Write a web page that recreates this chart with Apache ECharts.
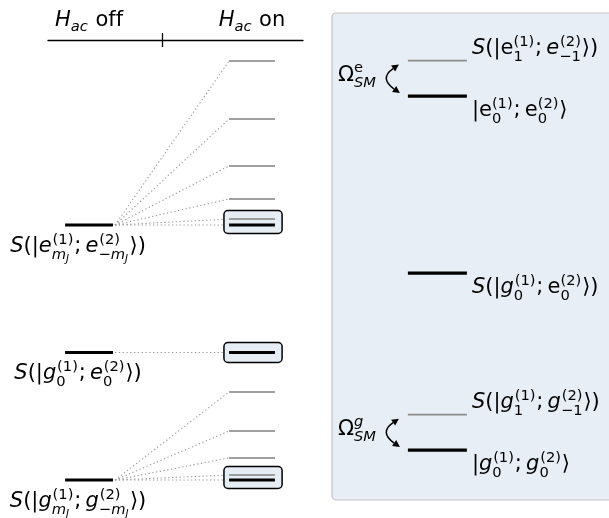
<!DOCTYPE html>
<html><head><meta charset="utf-8">
<script src="https://cdn.jsdelivr.net/npm/echarts@6/dist/echarts.min.js"></script>
<style>html,body{margin:0;padding:0;background:#fff}#c{width:609px;height:518px}</style>
</head><body><div id="c"></div>
<script>
// ---------------- data ----------------
const columnTitles = ['H_{ac}\\rm{ off}', 'H_{ac}\\rm{ on}'];
const manifoldLabels = [
  'S(|e^{(1)}_{m_J};\u2009e^{(2)}_{\u2212m_J}\u27E9)',
  'S(|g^{(1)}_0;\u2009e^{(2)}_0\u27E9)',
  'S(|g^{(1)}_{m_J};\u2009g^{(2)}_{\u2212m_J}\u27E9)'
];
const offEnergies = [2.0, 1.0, 0.0];                 // H_ac off
const eManifoldOn = [3.286, 2.831, 2.463, 2.204, 2.047, 2.0];  // H_ac on (last = m_J 0)
const g0e0On = [1.0];
const gManifoldOn = [0.690, 0.384, 0.173, 0.039, 0.0];
const boxedPairs = [[2.0, 2.047], [1.0, 1.0], [0.0, 0.039]];   // [low, high]

const zoomLabels = [
  'S(|\\rm{e}^{(1)}_1;\u2009e^{(2)}_{\u22121}\u27E9)',
  '|\\rm{e}^{(1)}_0;\u2009\\rm{e}^{(2)}_0\u27E9',
  'S(|g^{(1)}_0;\u2009\\rm{e}^{(2)}_0\u27E9)',
  'S(|g^{(1)}_1;\u2009g^{(2)}_{\u22121}\u27E9)',
  '|g^{(1)}_0;\u2009g^{(2)}_0\u27E9'
];
const zoomEnergies = [2.2, 2.0, 1.0, 0.2, 0.0];
const couplingLabels = ['\u03A9^{\\rm{e}}_{SM}', '\u03A9^g_{SM}'];
const couplingPairs = [[2.2, 2.0], [0.2, 0.0]];

// ---------------- layout / style ----------------
const LY = [-0.298, 3.451];
const RY = [-0.282, 2.469];
const OFF_X = [0.067, 0.255], ON_X = [0.71, 0.89], BOX_X = [0.69, 0.918], TICK_X = 0.447;
const Z_X = [0.274, 0.487];
const zoomGray = [true, false, false, true, false];
const FS = 21;
const FAM = '"DejaVu Sans"';
const mctx = document.createElement('canvas').getContext('2d');
function fstr(size, it) { return (it ? 'italic ' : '') + size.toFixed(2) + 'px ' + FAM; }
function meas(t, f) { mctx.font = f; return mctx.measureText(t).width; }

function parseMath(s) {
  let i = 0;
  function mark(ns) { ns.forEach(n => { n.up = true; if (n.sup) mark(n.sup); if (n.sub) mark(n.sub); }); }
  function arg() {
    if (s[i] === '{') { i++; const g = group(); i++; return g; }
    return [{ ch: s[i++] }];
  }
  function group() {
    const out = [];
    while (i < s.length && s[i] !== '}') {
      const c = s[i];
      if (c === '^' || c === '_') {
        i++; const a = arg(); const last = out[out.length - 1];
        if (c === '^') last.sup = a; else last.sub = a;
      } else if (c === '\\') {
        i++; let cmd = '';
        while (i < s.length && /[a-z]/i.test(s[i])) cmd += s[i++];
        const a = arg(); if (cmd === 'rm') mark(a); out.push(...a);
      } else if (c === '{') { i++; out.push(...group()); i++; }
      else { out.push({ ch: c }); i++; }
    }
    return out;
  }
  return group();
}
function layoutMath(nodes, size, x, base, out) {
  for (const n of nodes) {
    const it = /[A-Za-z]/.test(n.ch) && !n.up;
    const f = fstr(size, it);
    const w = meas(n.ch, f);
    if (out) out.push({ type: 'text', x: x, y: base - 0.34 * size, silent: true,
      style: { text: n.ch, font: f, fill: '#000', align: 'left', verticalAlign: 'middle',
               textAlign: 'left', textVerticalAlign: 'middle' } });
    x += w;
    if (n.sup || n.sub) {
      const ss = size * 0.7, both = n.sup && n.sub;
      let x1 = x, x2 = x;
      if (n.sup) x1 = layoutMath(n.sup, ss, x + (it ? 0.04 * size : 0), base - size * (both ? 0.42 : 0.38), out);
      if (n.sub) x2 = layoutMath(n.sub, ss, x, base + size * (both ? 0.30 : 0.22), out);
      x = Math.max(x1, x2) + 0.04 * size;
    }
  }
  return x;
}
function mathText(str, x, base, align) {
  const nodes = parseMath(str);
  const w = layoutMath(nodes, FS, 0, 0, null);
  const x0 = align === 'center' ? x - w / 2 : align === 'right' ? x - w : x;
  const out = [];
  layoutMath(nodes, FS, x0, base, out);
  return out;
}

// derived series data
const onSets = [eManifoldOn, g0e0On, gManifoldOn];
const dottedData = [], onData = [];
onSets.forEach((arr, k) => arr.forEach((E, j) => {
  dottedData.push([offEnergies[k], E]);
  onData.push([E, j === arr.length - 1 ? 1 : 0]);
}));

const L = { xAxisIndex: 0, yAxisIndex: 0 };
const R = { xAxisIndex: 2, yAxisIndex: 1 };

const option = {
  animation: false,
  backgroundColor: '#fff',
  grid: [
    { left: 48, width: 255, top: 40, height: 478 },
    { left: 332, right: 0, top: 13, height: 487 }
  ],
  xAxis: [
    { gridIndex: 0, type: 'value', min: 0, max: 1, position: 'top',
      axisLine: { show: true, onZero: false, lineStyle: { color: '#000', width: 1.3 } },
      axisTick: { show: true, customValues: [TICK_X], length: 7, lineStyle: { color: '#000', width: 1.3 } },
      axisLabel: { show: false }, splitLine: { show: false } },
    { gridIndex: 0, type: 'value', min: 0, max: 1, position: 'top',
      axisLine: { show: false, onZero: false },
      axisTick: { show: true, inside: true, customValues: [TICK_X], length: 7, lineStyle: { color: '#000', width: 1.3 } },
      axisLabel: { show: false }, splitLine: { show: false } },
    { gridIndex: 1, type: 'value', min: 0, max: 1, show: false }
  ],
  yAxis: [
    { gridIndex: 0, type: 'value', min: LY[0], max: LY[1], show: false },
    { gridIndex: 1, type: 'value', min: RY[0], max: RY[1], show: false }
  ],
  series: [
    // column titles
    Object.assign({ type: 'custom', clip: false, z: 5, data: [[0.161, 0], [0.80, 1]],
      renderItem: (p, api) => {
        const c = api.coord([api.value(0), LY[1]]);
        return { type: 'group', children: mathText(columnTitles[api.value(1)], c[0], c[1] - 12, 'center') };
      } }, L),
    // dotted connectors
    Object.assign({ type: 'custom', clip: false, z: 1, data: dottedData,
      renderItem: (p, api) => {
        const a = api.coord([OFF_X[1], api.value(0)]);
        const b = api.coord([ON_X[0], api.value(1)]);
        return { type: 'line', shape: { x1: a[0] + 2, y1: a[1], x2: b[0], y2: b[1] },
          style: { stroke: '#9a9a9a', lineWidth: 1.1, lineDash: [1.3, 2.5] } };
      } }, L),
    // boxes
    Object.assign({ type: 'custom', clip: false, z: 2, data: boxedPairs,
      renderItem: (p, api) => {
        const lo = api.value(0), hi = api.value(1);
        const pad = lo === hi ? 10 : 8.5;
        const a = api.coord([BOX_X[0], hi]), b = api.coord([BOX_X[1], lo]);
        return { type: 'rect', shape: { x: a[0], y: a[1] - pad, width: b[0] - a[0], height: b[1] - a[1] + 2 * pad, r: 4 },
          style: { fill: '#e6edf5', stroke: '#000', lineWidth: 1.5 } };
      } }, L),
    // off levels + labels
    Object.assign({ type: 'custom', clip: false, z: 3, data: offEnergies.map((E, k) => [E, k]),
      renderItem: (p, api) => {
        const E = api.value(0), k = api.value(1);
        const a = api.coord([OFF_X[0], E]), b = api.coord([OFF_X[1], E]);
        const ch = [{ type: 'line', shape: { x1: a[0], y1: a[1], x2: b[0], y2: b[1] },
          style: { stroke: '#000', lineWidth: 3.2 } }];
        return { type: 'group', children: ch.concat(mathText(manifoldLabels[k], (a[0] + b[0]) / 2 - 11, a[1] + 28.5, 'center')) };
      } }, L),
    // on levels
    Object.assign({ type: 'custom', clip: false, z: 3, data: onData,
      renderItem: (p, api) => {
        const E = api.value(0), bright = api.value(1) === 1;
        const a = api.coord([ON_X[0], E]), b = api.coord([ON_X[1], E]);
        return { type: 'line', shape: { x1: a[0], y1: a[1], x2: b[0], y2: b[1] },
          style: { stroke: bright ? '#000' : '#808080', lineWidth: bright ? 3.2 : 1.6 } };
      } }, L),
    // zoom panel background (extends past the right edge of the page)
    Object.assign({ type: 'custom', clip: false, z: 0, data: [[RY[0], RY[1]]],
      renderItem: (p, api) => {
        const a = api.coord([0, api.value(1)]), b = api.coord([1, api.value(0)]);
        return { type: 'rect', shape: { x: a[0], y: a[1], width: b[0] - a[0] + 20, height: b[1] - a[1], r: 4 },
          style: { fill: '#e8eef5', stroke: '#c4c4c4', lineWidth: 1.2 } };
      } }, R),
    // zoom levels + labels
    Object.assign({ type: 'custom', clip: false, z: 3, data: zoomEnergies.map((E, k) => [E, k]),
      renderItem: (p, api) => {
        const E = api.value(0), k = api.value(1), gray = zoomGray[k];
        const a = api.coord([Z_X[0], E]), b = api.coord([Z_X[1], E]);
        const ch = [{ type: 'line', shape: { x1: a[0], y1: a[1], x2: b[0], y2: b[1] },
          style: { stroke: gray ? '#8c8c8c' : '#000', lineWidth: gray ? 1.6 : 3.2 } }];
        return { type: 'group', children: ch.concat(mathText(zoomLabels[k], b[0] + 5, gray ? a[1] - 5 : a[1] + 22, 'left')) };
      } }, R),
    // couplings
    Object.assign({ type: 'custom', clip: false, z: 4, data: couplingPairs.map((pr, k) => [pr[0], pr[1], k]),
      renderItem: (p, api) => {
        const hi = api.coord([Z_X[0], api.value(0)]), lo = api.coord([Z_X[0], api.value(1)]);
        const k = api.value(2);
        const tx = hi[0] - 9;
        const T = [tx, hi[1] + 4], B = [tx + 1, lo[1] - 3], C = [tx - 20, (hi[1] + lo[1]) / 2];
        function head(P, Cc) {
          const dx = P[0] - Cc[0], dy = P[1] - Cc[1], L0 = Math.hypot(dx, dy);
          const ux = dx / L0, uy = dy / L0, len = 7, hw = 3.6;
          const bx = P[0] - ux * len, by = P[1] - uy * len;
          return { pts: [[P[0], P[1]], [bx - uy * hw, by + ux * hw], [bx + uy * hw, by - ux * hw]], base: [bx, by] };
        }
        const h1 = head(T, C), h2 = head(B, C);
        const ch = [
          { type: 'bezierCurve', shape: { x1: h1.base[0], y1: h1.base[1], x2: h2.base[0], y2: h2.base[1], cpx1: C[0], cpy1: C[1] },
            style: { stroke: '#000', lineWidth: 1.5, fill: null } },
          { type: 'polygon', shape: { points: h1.pts }, style: { fill: '#000' } },
          { type: 'polygon', shape: { points: h2.pts }, style: { fill: '#000' } }
        ];
        const mid = (hi[1] + lo[1]) / 2;
        return { type: 'group', children: ch.concat(mathText(couplingLabels[k], 338, mid + 4, 'left')) };
      } }, R)
  ]
};
const chart = echarts.init(document.getElementById('c'), null, { renderer: 'canvas' });
chart.setOption(option);
</script></body></html>
